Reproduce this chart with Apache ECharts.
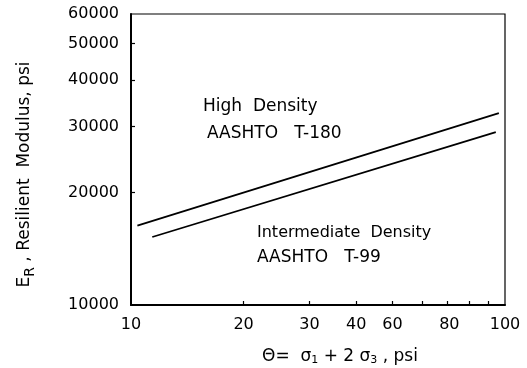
<!DOCTYPE html>
<html>
<head>
<meta charset="utf-8">
<script src="https://cdn.jsdelivr.net/npm/echarts@6/dist/echarts.min.js"></script>
<style>html,body{margin:0;padding:0;background:#fff}#c{width:527px;height:368px}</style>
</head>
<body>
<div id="c"></div>
<script>
// ---- data ----
const highDensityX = [10.4, 96.3];
const highDensityY = [16300, 32600];
const intermediateX = [11.4, 94.5];
const intermediateY = [15200, 29000];
const xTickValues = [20, 30, 40, 50, 60, 70, 80, 90];
const xLabelValues = [10, 20, 30, 40, 50, 71, 100];
const xLabelTexts = ['10', '20', '30', '40', '60', '80', '100'];
const yTickValues = [20000, 30000, 40000, 50000];
const yLabelValues = [10000, 20000, 30000, 40000, 50000, 60000];
const yLabelTexts = ['10000', '20000', '30000', '40000', '50000', '60000'];
const annotations = ['High  Density', 'AASHTO   T-180', 'Intermediate  Density', 'AASHTO   T-99'];

const FONT = 'DejaVu Sans';
function lookup(vals, texts, v) {
  let best = 0, bd = Infinity;
  vals.forEach((x, i) => { const d = Math.abs(Math.log(x) - Math.log(v)); if (d < bd) { bd = d; best = i; } });
  return texts[best];
}
const chart = echarts.init(document.getElementById('c'), null, {renderer: 'canvas'});
chart.setOption({
  animation: false,
  backgroundColor: '#fff',
  grid: {left: 131, right: 22, top: 14, bottom: 63, show: true, borderColor: '#000', borderWidth: 1.2,
         containLabel: false, outerBoundsMode: 'none'},
  xAxis: {
    type: 'log', logBase: 10, min: 10, max: 100,
    name: '{t|Θ=  σ}{s|1}{t| + 2 σ}{s|3}{t| , psi}',
    nameLocation: 'middle', nameGap: 42,
    nameTextStyle: {padding: [0, 0, 0, 44], rich: {
      t: {fontFamily: FONT, fontSize: 17, color: '#000'},
      s: {fontFamily: FONT, fontSize: 11, color: '#000', padding: [8, 0, 0, 0]}
    }},
    axisLine: {show: true, lineStyle: {color: '#000', width: 2}},
    axisTick: {show: true, inside: true, length: 4, customValues: xTickValues, lineStyle: {color: '#000', width: 1.2}},
    minorTick: {show: false},
    splitLine: {show: false},
    axisLabel: {customValues: xLabelValues, margin: 12, color: '#000', fontFamily: FONT, fontSize: 16,
      formatter: v => lookup(xLabelValues, xLabelTexts, v)}
  },
  yAxis: {
    type: 'log', logBase: 10, min: 10000, max: 60000,
    name: '{t|E}{s|R}{t| , Resilient  Modulus, psi}',
    nameLocation: 'middle', nameRotate: 90, nameGap: 94,
    nameTextStyle: {padding: [0, 30, 0, 0], rich: {
      t: {fontFamily: FONT, fontSize: 17, color: '#000'},
      s: {fontFamily: FONT, fontSize: 14, color: '#000', padding: [10, 0, 0, 0]}
    }},
    axisLine: {show: true, lineStyle: {color: '#000', width: 2}},
    axisTick: {show: true, inside: true, length: 4, customValues: yTickValues, lineStyle: {color: '#000', width: 1.2}},
    splitLine: {show: false},
    axisLabel: {customValues: yLabelValues, margin: 12, color: '#000', fontFamily: FONT, fontSize: 16,
      formatter: v => lookup(yLabelValues, yLabelTexts, v)}
  },
  graphic: [
    {type: 'text', left: 203, top: 98, style: {text: annotations[0], font: '17px "DejaVu Sans"', fill: '#000'}},
    {type: 'text', left: 207, top: 125, style: {text: annotations[1], font: '17px "DejaVu Sans"', fill: '#000'}},
    {type: 'text', left: 257, top: 225, style: {text: annotations[2], font: '16px "DejaVu Sans"', fill: '#000'}},
    {type: 'text', left: 257, top: 249, style: {text: annotations[3], font: '17px "DejaVu Sans"', fill: '#000'}}
  ],
  series: [
    {type: 'line', data: highDensityX.map((x, i) => [x, highDensityY[i]]), showSymbol: false, symbol: 'none',
     lineStyle: {color: '#000', width: 1.8}},
    {type: 'line', data: intermediateX.map((x, i) => [x, intermediateY[i]]), showSymbol: false, symbol: 'none',
     lineStyle: {color: '#000', width: 1.8}}
  ]
});
</script>
</body>
</html>
